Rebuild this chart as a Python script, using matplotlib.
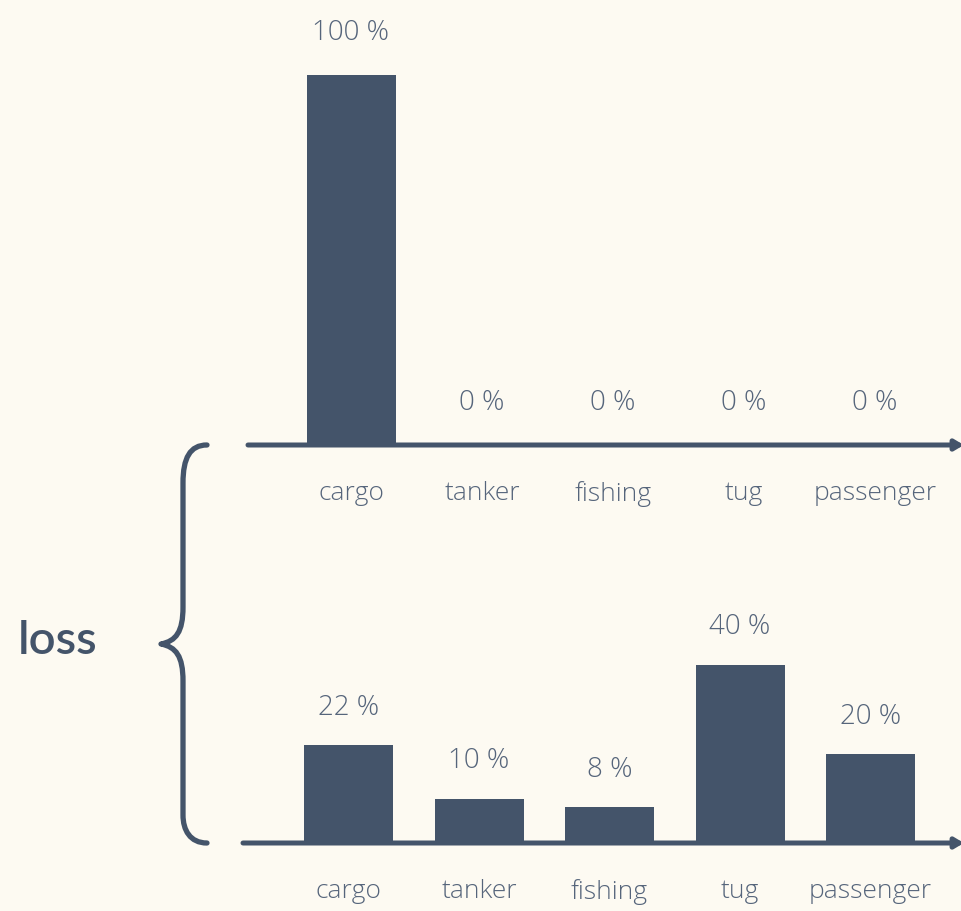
import matplotlib.pyplot as plt
from matplotlib.path import Path
from matplotlib.patches import PathPatch

# datos
categorias = ["cargo", "tanker", "fishing", "tug", "passenger"]
valores_arriba = [100, 0, 0, 0, 0]
valores_abajo = [22, 10, 8, 40, 20]

fondo = "#fdfaf2"
azul = "#44546a"
texto = "#56657b"
fuente = "Open Sans"

W, H = 961, 911
fig = plt.figure(figsize=(W / 100, H / 100), dpi=100, facecolor=fondo)


def grafico(base_px, izq_px, centro0_px, paso_px, px_por_pct, alto_px, valores, desp):
    # ejes en pixeles -> fraccion de figura
    ax = fig.add_axes([izq_px / W, (H - base_px) / H, (W - izq_px) / W, alto_px / H])
    ax.set_facecolor("none")
    x0 = (izq_px - centro0_px) / paso_px
    x1 = (W - centro0_px) / paso_px
    ax.set_xlim(x0, x1)
    ax.set_ylim(0, alto_px / px_por_pct)
    ax.axis("off")
    pos = list(range(len(categorias)))
    ax.bar(pos, valores, width=89 / paso_px, color=azul, zorder=2)
    ax.annotate("", xy=(1.004, 0), xytext=(0, 0),
                xycoords=ax.get_yaxis_transform(), textcoords=ax.get_yaxis_transform(),
                arrowprops=dict(arrowstyle="-|>,head_length=0.5,head_width=0.3",
                                color=azul, lw=3.6, capstyle="round", shrinkA=0, shrinkB=0),
                annotation_clip=False, zorder=3)
    for p, v, c in zip(pos, valores, categorias):
        ax.annotate(f"{v} %", (p, v), xytext=(0, desp), textcoords="offset points",
                    ha="center", va="center", fontsize=20, color=texto,
                    family=fuente, fontweight="light", annotation_clip=False)
        ax.annotate(c, (p, 0), xytext=(0, -35), textcoords="offset points",
                    ha="center", va="center", fontsize=19, color=texto,
                    family=fuente, fontweight="light", annotation_clip=False)
    return ax


grafico(445, 248, 351, 131, 3.7, 445, valores_arriba, 30)
grafico(843, 243, 348.5, 130.5, 4.45, 240, valores_abajo, 27)

# llave y etiqueta "loss"
capa = fig.add_axes([0, 0, 1, 1])
capa.set_xlim(0, W)
capa.set_ylim(H, 0)
capa.axis("off")
capa.patch.set_alpha(0)

puntos = [(207, 445), (190, 445), (183, 458), (183, 483),
          (183, 607),
          (183, 632), (176, 641), (161, 644),
          (176, 647), (183, 656), (183, 681),
          (183, 815),
          (183, 830), (190, 843), (207, 843)]
codigos = [Path.MOVETO, Path.CURVE4, Path.CURVE4, Path.CURVE4,
           Path.LINETO,
           Path.CURVE4, Path.CURVE4, Path.CURVE4,
           Path.CURVE4, Path.CURVE4, Path.CURVE4,
           Path.LINETO,
           Path.CURVE4, Path.CURVE4, Path.CURVE4]
capa.add_patch(PathPatch(Path(puntos, codigos), fill=False, edgecolor=azul,
                         lw=3.8, capstyle="round", joinstyle="round"))
capa.text(58, 641, "loss", ha="center", va="center", fontsize=34,
          color=azul, family="Lato", fontweight="semibold")

fig.savefig("out.png", dpi=100, facecolor=fondo)
